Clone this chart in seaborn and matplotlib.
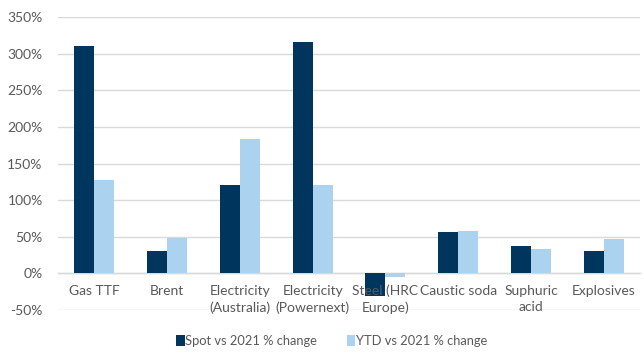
import matplotlib
matplotlib.use("Agg")
import matplotlib.pyplot as plt
from matplotlib.ticker import FuncFormatter
import seaborn as sns
import pandas as pd

categories = ["Gas TTF", "Brent", "Electricity\n(Australia)", "Electricity\n(Powernext)",
              "Steel (HRC\nEurope)", "Caustic soda", "Suphuric\nacid", "Explosives"]
spot_vs_2021 = [310, 30, 120, 316, -31, 56, 37, 30]
ytd_vs_2021 = [127, 48, 184, 120, -5, 58, 33, 47]
series_names = ["Spot vs 2021 % change", "YTD vs 2021 % change"]
palette = ["#00365E", "#ABD3F0"]

df = pd.DataFrame({
    "category": categories * 2,
    "series": [series_names[0]] * len(categories) + [series_names[1]] * len(categories),
    "value": spot_vs_2021 + ytd_vs_2021,
})

sns.set_theme(style="white")
plt.rcParams["font.family"] = ["Lato", "DejaVu Sans"]

fig = plt.figure(figsize=(6.44, 3.52), dpi=100)
ax = fig.add_axes([0.09, 0.119, 0.904, 0.833])

sns.barplot(data=df, x="category", y="value", hue="series", order=categories,
            hue_order=series_names, palette=palette, width=0.55, gap=0,
            saturation=1, ax=ax, legend=True, linewidth=0, edgecolor="none", zorder=2)

ax.set_ylim(-50, 350)
ax.set_yticks(range(-50, 351, 50))
ax.yaxis.set_major_formatter(FuncFormatter(lambda v, _: f"{int(v)}%"))
ax.grid(axis="y", color="#D9D9D9", linewidth=1, zorder=0)
ax.grid(axis="x", visible=False)
ax.set_axisbelow(True)
ax.set_xlabel("")
ax.set_ylabel("")

for side in ["top", "right", "left"]:
    ax.spines[side].set_visible(False)
ax.spines["bottom"].set_position(("data", 0))
ax.spines["bottom"].set_color("#D9D9D9")
ax.spines["bottom"].set_linewidth(1)
ax.spines["bottom"].set_zorder(1)

ax.tick_params(axis="both", length=0, labelsize=10, colors="#595959")
ax.tick_params(axis="x", pad=8)
ax.tick_params(axis="y", pad=11)
ax.xaxis.set_zorder(5)
for lbl in ax.get_xticklabels():
    lbl.set_linespacing(1.45)

handles, labels = ax.get_legend_handles_labels()
ax.legend_.remove()
fig.legend(handles, labels, loc="center", bbox_to_anchor=(0.515, 0.031), ncol=2,
           frameon=False, fontsize=9.3, handlelength=0.65, handleheight=0.9,
           handletextpad=0.05, columnspacing=2.3, labelcolor="#595959")

fig.savefig("out.png", dpi=100)
